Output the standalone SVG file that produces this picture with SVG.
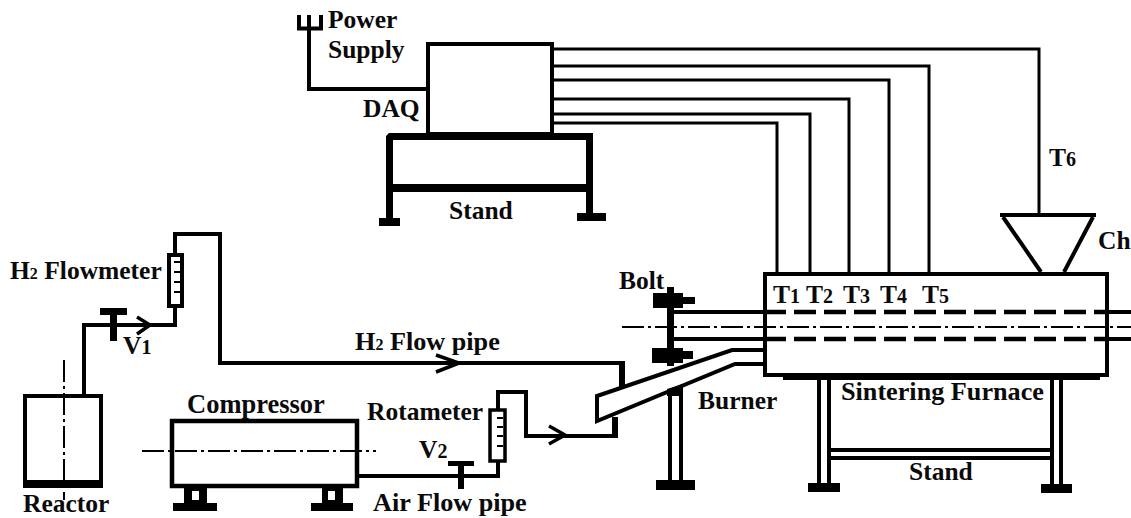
<svg xmlns="http://www.w3.org/2000/svg" width="1131" height="518" viewBox="0 0 1131 518">
<style>
text{font-family:"Liberation Serif","Times New Roman",serif;font-weight:bold;font-size:25.5px;fill:#0a0a0a}
tspan{font-size:16px}
tspan.n{font-size:20px}
.b{font-size:26.2px}
.s{fill:none;stroke:#000;stroke-width:4;stroke-linejoin:miter}
.h{fill:none;stroke:#000;stroke-width:6}
.w{fill:none;stroke:#000;stroke-width:3}
.a{fill:none;stroke:#000;stroke-width:3.500}
.m{fill:none;stroke:#000;stroke-width:2}
.k{fill:#000;stroke:none}
.c{fill:none;stroke:#000;stroke-width:2;stroke-dasharray:22 4 3 4}
.d{fill:none;stroke:#000;stroke-width:4.500;stroke-dasharray:22 8}
</style>
<rect width="1131" height="518" fill="#fff"/>
<g id="connectors">
<path class="s" d="M84 394V325H175V308M175 253V234H220V363H622"/>
<path class="h" d="M622 361V388"/>
<path class="a" d="M137 317L150 325L137 334"/>
<path class="a" d="M436 355L459 363L436 372"/>
<path class="s" d="M359 476H498V462"/>
<path class="s" d="M498 409V392H526V436H615"/>
<path class="h" d="M615 438V417"/>
<path class="a" d="M549 426L565 435L549 444"/>
<path class="s" d="M309 28V89H426"/>
<path class="w" d="M554 49H1039V215M554 66H929V272M554 80H889V272M554 99H849V272M554 114H810V272M554 123H777V272"/>
<path class="s" d="M674 312H764M674 339H764M1108 312H1131M1108 339H1131"/>
<path class="d" d="M764 312H1108M764 339H1108"/>
<path class="c" d="M622 327H1131"/>
</g>
<g id="reactor">
<rect class="s" x="25" y="396" width="76" height="90"/>
<rect class="k" x="23" y="480" width="80" height="8"/>
<path class="c" d="M64 360V500"/>
<text x="23" y="512">Reactor</text>
</g>
<g id="v1">
<rect class="k" x="100" y="308" width="27" height="7"/>
<rect class="k" x="110" y="312" width="7" height="29"/>
<text x="123" y="354">V<tspan class="n">1</tspan></text>
</g>
<g id="h2-flowmeter">
<rect class="s" x="169" y="255" width="13" height="51" fill="#fff"/>
<path class="m" d="M174 262H180M174 272H180M174 282H180M174 292H180"/>
<text x="10" y="279">H<tspan>2</tspan> Flowmeter</text>
</g>
<g id="h2-pipe-label"><text class="b" x="355" y="350">H<tspan>2</tspan> Flow pipe</text></g>
<g id="compressor">
<rect class="s" x="172" y="421" width="185" height="65" style="stroke-width:4.500"/>
<path class="k" fill-rule="evenodd" d="M184 488H207V503H217V511H173V503H184ZM192 491V500H199V491Z"/>
<path class="k" fill-rule="evenodd" d="M322 488H343V503H353V511H311V503H322ZM328 491V500H335V491Z"/>
<path class="c" d="M142 451H376"/>
<text x="187" y="413" style="font-size:26.500px">Compressor</text>
</g>
<g id="v2">
<rect class="k" x="448" y="461" width="26" height="5"/>
<rect class="k" x="458" y="463" width="6" height="26"/>
<text x="419" y="458">V<tspan class="n">2</tspan></text>
<text class="b" x="373" y="511">Air Flow pipe</text>
</g>
<g id="rotameter">
<rect class="a" x="490" y="410" width="15" height="51" fill="#fff"/>
<path class="m" d="M497 418H503M497 427H503M497 436H503M497 446H503"/>
<text x="367" y="420">Rotameter</text>
</g>
<g id="burner">
<path class="s" d="M764 350H732L597 396V421L735 364H764" fill="#fff"/>
<text x="698" y="409">Burner</text>
</g>
<g id="burner-stand">
<path class="k" d="M667 389L683 384V396H667Z"/>
<path class="s" d="M670 394V480M681 394V480"/>
<rect class="k" x="656" y="480" width="39" height="10"/>
</g>
<g id="bolt">
<rect class="k" x="667" y="287" width="7" height="79"/>
<path class="k" d="M653 293H683V297H695V304H683V308H653Z"/>
<path class="k" d="M652 348H683V351H693V359H683V363H652Z"/>
<text x="619" y="289">Bolt</text>
</g>
<g id="furnace">
<rect class="s" x="765" y="274" width="342" height="101"/>
<rect class="k" x="783" y="373" width="317" height="7"/>
<text x="773" y="303">T<tspan class="n">1</tspan></text>
<text x="806" y="303">T<tspan class="n">2</tspan></text>
<text x="843" y="303">T<tspan class="n">3</tspan></text>
<text x="880" y="303">T<tspan class="n">4</tspan></text>
<text x="922" y="303">T<tspan class="n">5</tspan></text>
<text class="b" x="841" y="400">Sintering Furnace</text>
</g>
<g id="furnace-stand">
<path class="s" d="M819 380V483M829 380V483M1052 380V484M1061 380V484M829 450H1052M829 458H1052"/>
<rect class="k" x="808" y="483" width="32" height="9"/>
<rect class="k" x="1041" y="484" width="31" height="9"/>
<text x="909" y="480">Stand</text>
</g>
<g id="chute">
<path class="s" d="M1000 215H1096M1003 217L1041 272M1093 217L1064 272"/>
<text x="1098" y="249">Ch</text>
<text x="1049" y="166">T<tspan class="n">6</tspan></text>
</g>
<g id="daq">
<rect class="s" x="428" y="44" width="124" height="90"/>
<text x="363" y="117">DAQ</text>
</g>
<g id="daq-stand">
<path class="k" d="M389 133H593V218H586V192H393V218H386V136ZM393 140V184H586V140Z" fill-rule="evenodd"/>
<rect class="k" x="379" y="218" width="21" height="8"/>
<rect class="k" x="577" y="213" width="29" height="8"/>
<text x="449" y="219">Stand</text>
</g>
<g id="power-supply">
<path class="s" d="M299 15V28.500H321V15M309 15V30"/>
<text x="328" y="28">Power</text>
<text x="328" y="58">Supply</text>
</g>
</svg>
